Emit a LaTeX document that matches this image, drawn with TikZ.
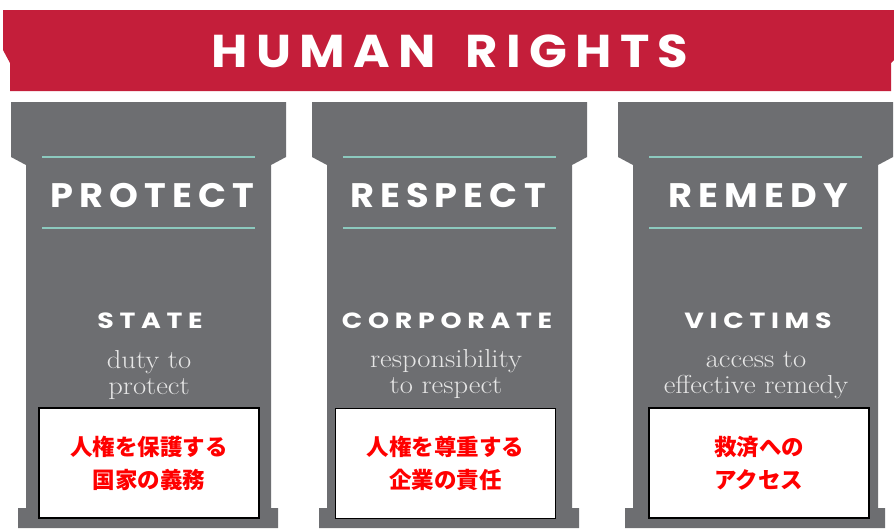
\documentclass[tikz,border=0pt]{standalone}
\usepackage{fontspec}
\newfontfamily\popfont{Poppins}[LetterSpace=18,FakeStretch=1.08]
\newfontfamily\popfontb{Poppins}[LetterSpace=26,FakeStretch=1.22]
\newfontfamily\jpfont{Noto Sans CJK JP}
\newfontfamily\descfont{Latin Modern Roman}[FakeStretch=1.1]
\definecolor{hrred}{HTML}{C41E3A}
\definecolor{pillar}{HTML}{6D6E71}
\definecolor{teal}{HTML}{8CC9BE}
\definecolor{serifgray}{HTML}{E6E6E6}
\definecolor{jpred}{HTML}{FF0000}
\tikzset{
  title/.style={text=white, inner sep=0pt, anchor=base, font=\popfont\bfseries\fontsize{46}{46}\selectfont},
  pillartitle/.style={text=white, inner sep=0pt, anchor=base, font=\popfont\bfseries\fontsize{34}{34}\selectfont},
  subject/.style={text=white, inner sep=0pt, anchor=base, font=\popfontb\bfseries\fontsize{22}{22}\selectfont},
  desc/.style={text=serifgray, inner sep=0pt, anchor=base, font=\descfont\fontsize{26}{28}\selectfont},
  jbox/.style={draw=black, fill=white, line width=1.2pt, minimum width=220pt, minimum height=110pt, inner sep=0pt},
  jtext/.style={text=jpred, align=center, inner sep=0pt, font=\jpfont\bfseries\fontsize{22.5}{33}\selectfont},
  rule/.style={draw=teal, line width=2pt}
}
\begin{document}
\begin{tikzpicture}[x=1pt,y=-1pt]
\useasboundingbox (0,0) rectangle (894,528);
\fill[white] (0,0) rectangle (894,528);
% banner
\fill[hrred] (3,10) -- (894,10) -- (894,60) -- (891,63) -- (891,91) -- (10,91) -- (10,63) -- (3,50) -- cycle;
\node[title] (hr) at (450,67) {HUMAN\hspace{30pt}RIGHTS};
% pillars
\foreach \dx in {0,301,607}{
  \fill[pillar] ({11+\dx},102) -- ({286+\dx},102) -- ({286+\dx},157) -- ({271+\dx},165)
    -- ({271+\dx},508) -- ({278+\dx},508) -- ({278+\dx},528) -- ({18+\dx},528)
    -- ({18+\dx},508) -- ({26+\dx},508) -- ({26+\dx},165) -- ({11+\dx},157) -- cycle;
  \draw[rule] ({42+\dx},157) -- ({255+\dx},157);
  \draw[rule] ({42+\dx},228) -- ({255+\dx},228);
}
% pillar 1
\node[pillartitle] (t1) at (152,207) {PROTECT};
\node[subject] (s1) at (150,328) {STATE};
\node[desc] (d1a) at (149,368) {duty to};
\node[desc] (d1b) at (149,394) {protect};
\node[jbox] (b1) at (149,463) {};
\node[jtext] (j1) at (b1.center) {人権を保護する\\国家の義務};
% pillar 2
\node[pillartitle] (t2) at (448,207) {RESPECT};
\node[subject] (s2) at (447,328) {CORPORATE};
\node[desc] (d2a) at (446,367) {responsibility};
\node[desc] (d2b) at (446,393) {to respect};
\node[jbox] (b2) at (445.5,463.5) {};
\node[jtext] (j2) at (b2.center) {人権を尊重する\\企業の責任};
% pillar 3
\node[pillartitle] (t3) at (758,207) {REMEDY};
\node[subject] (s3) at (758,328) {VICTIMS};
\node[desc] (d3a) at (756,367) {access to};
\node[desc] (d3b) at (756,393) {effective remedy};
\node[jbox] (b3) at (759,463) {};
\node[jtext] (j3) at (b3.center) {救済への\\アクセス};
\end{tikzpicture}
\end{document}
